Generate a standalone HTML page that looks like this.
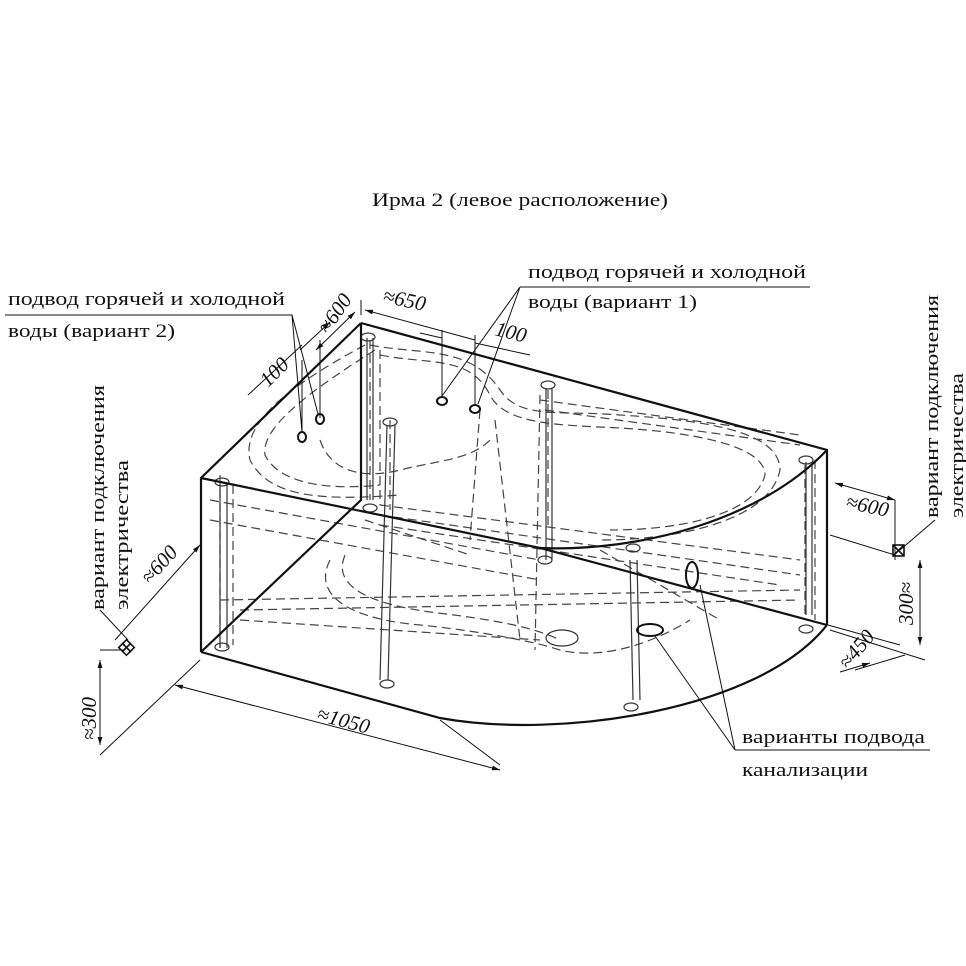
<!DOCTYPE html>
<html><head><meta charset="utf-8"><style>
html,body{margin:0;padding:0;background:#fff;}
svg{display:block;}
text{font-family:"Liberation Serif","DejaVu Serif",serif;fill:#111;}
</style></head><body>
<svg width="966" height="966" viewBox="0 0 966 966" xmlns="http://www.w3.org/2000/svg">
<defs>
<marker id="ar" viewBox="0 0 10 10" refX="10" refY="5" markerWidth="8" markerHeight="8" orient="auto-start-reverse"><path d="M0,2 L10,5 L0,8 z" fill="#111"/></marker>
</defs>
<text x="372" y="206" font-size="19" textLength="296" lengthAdjust="spacingAndGlyphs">Ирма 2 (левое расположение)</text>

<g fill="none" stroke="#444" stroke-width="1.2" stroke-dasharray="9,5">
<path d="M365,345 C300,380 240,420 250,460 C270,500 330,500 400,495"/>
<path d="M375,350 C320,385 260,425 265,455 C280,485 330,490 380,485"/>
<path d="M370,345 C420,355 470,345 500,390 C520,420 560,410 620,415 C700,420 780,430 780,470 C770,520 680,540 600,540"/>
<path d="M380,355 C430,365 470,355 490,395 C505,425 560,425 620,428 C690,432 765,445 765,475 C755,515 680,530 610,530"/>
<path d="M320,440 C330,470 360,480 400,470 C440,460 470,460 490,440"/>
<path d="M330,560 C310,600 360,620 420,625 C470,630 530,640 560,650 C600,660 650,645 690,620"/>
<path d="M345,555 C330,590 380,605 430,612 C480,618 530,625 560,640"/>
<path d="M220,475 L220,648 M233,485 L233,645"/>
<path d="M370,340 L370,500 M380,350 L380,505"/>
<path d="M805,465 L805,615 M815,460 L815,620"/>
<path d="M220,600 L800,590 M240,610 L800,600 M240,620 L540,640"/>
<path d="M390,420 L390,510 M548,390 L548,530 M540,395 L535,650"/>
<path d="M380,505 L800,560 M380,515 L800,575 M380,525 L780,585"/>
<path d="M210,500 L540,560 M210,520 L540,580"/>
<path d="M480,410 L470,540 M495,420 L520,640"/>
<path d="M365,520 L470,555 M600,550 L720,620"/>
<path d="M540,400 L800,435 M545,410 L800,445"/>
</g>
<g fill="none" stroke="#333" stroke-width="1.2">
<path d="M220,484 L220,648 M227,484 L227,648"/>
<path d="M367,338 L367,500 M373,338 L373,500"/>
<path d="M387,425 L380,680 M395,425 L388,680"/>
<path d="M546,388 L546,560 M552,388 L552,560"/>
<path d="M630,560 L633,700 M637,560 L640,700"/>
<path d="M806,462 L806,615 M812,462 L812,615"/>
<ellipse cx="222" cy="482" rx="7" ry="4"/><ellipse cx="222" cy="647" rx="7" ry="4"/>
<ellipse cx="368" cy="337" rx="7" ry="4"/><ellipse cx="370" cy="508" rx="7" ry="4"/>
<ellipse cx="390" cy="422" rx="7" ry="4"/><ellipse cx="387" cy="684" rx="7" ry="4"/>
<ellipse cx="548" cy="385" rx="7" ry="4"/><ellipse cx="545" cy="560" rx="7" ry="4"/>
<ellipse cx="631" cy="707" rx="7" ry="4"/><ellipse cx="633" cy="548" rx="7" ry="4"/>
<ellipse cx="806" cy="460" rx="7" ry="4"/><ellipse cx="806" cy="629" rx="7" ry="4"/>
<ellipse cx="562" cy="638" rx="16" ry="8"/>
</g>
<g fill="none" stroke="#111" stroke-width="2.2">
<path d="M361,323 L827,450 L827,625"/>
<path d="M361,323 L201,478 L201,652"/>
<path d="M361,323 L361,500 L201,652"/>
<path d="M201,478 L540,548 L827,625"/>
<path d="M540,548 C640,552 760,520 826,451"/>
<path d="M201,652 L440,718 C560,740 760,710 827,625"/>
</g>
<g fill="none" stroke="#111" stroke-width="2">
<ellipse cx="302" cy="437" rx="4" ry="5"/><ellipse cx="320" cy="419" rx="4" ry="5"/>
<ellipse cx="442" cy="401" rx="5" ry="4"/><ellipse cx="475" cy="409" rx="5" ry="4"/>
<ellipse cx="692" cy="575" rx="6" ry="13"/><ellipse cx="650" cy="630" rx="13" ry="6"/>
</g>
<g fill="none" stroke="#111" stroke-width="1">
<path d="M5,315 L292,315 L302,432 M292,315 L318,414"/>
<path d="M520,287 L810,287 M520,287 L442,396 M520,287 L478,404"/>
<path d="M735,750 L930,750 M735,750 L700,585 M735,750 L655,636"/>
<path d="M320,340 L320,418 M302,360 L302,432"/>
<path d="M248,395 L302,345 M300,350 L330,322" marker-end="url(#ar)"/>
<path d="M316,350 L355,312" marker-start="url(#ar)" marker-end="url(#ar)"/>
<path d="M361,315 L361,300"/>
<path d="M365,310 L475,340" marker-start="url(#ar)"/>
<path d="M442,330 L442,396 M475,335 L475,404"/>
<path d="M420,333 L442,338 M475,343 L530,355" />
<path d="M835,483 L895,500" marker-start="url(#ar)" marker-end="url(#ar)"/>
<path d="M830,535 L895,555 M895,500 L895,560"/>
<path d="M830,630 L925,660 M828,625 L900,645"/>
<path d="M855,670 L905,655" />
<path d="M840,672 L870,663" marker-end="url(#ar)"/>
<path d="M920,560 L920,645" marker-start="url(#ar)" marker-end="url(#ar)"/>
<path d="M200,545 L115,640" marker-start="url(#ar)"/>
<path d="M200,660 L100,755 M125,650 L100,650"/>
<path d="M100,660 L100,745" marker-start="url(#ar)" marker-end="url(#ar)"/>
<path d="M175,685 L500,770" marker-start="url(#ar)" marker-end="url(#ar)"/>
<path d="M500,765 L440,720"/>
<path d="M100,610 L128,640 M935,520 L900,550"/>
</g>
<g stroke="#111" stroke-width="1.6" fill="none">
<rect x="121" y="642" width="11" height="11" transform="rotate(45 126.5 647.5)"/>
<path d="M122,643 L131,652 M131,643 L122,652"/>
<rect x="893" y="545" width="11" height="11"/>
<path d="M893,545 L904,556 M904,545 L893,556"/>
</g>
<g font-size="19" lengthAdjust="spacingAndGlyphs">
<text x="8" y="305" textLength="277" lengthAdjust="spacingAndGlyphs">подвод горячей и холодной</text>
<text x="8" y="337" textLength="167" lengthAdjust="spacingAndGlyphs">воды (вариант 2)</text>
<text x="528" y="278" textLength="278" lengthAdjust="spacingAndGlyphs">подвод горячей и холодной</text>
<text x="528" y="308" textLength="169" lengthAdjust="spacingAndGlyphs">воды (вариант 1)</text>
<text x="742" y="743" textLength="183" lengthAdjust="spacingAndGlyphs">варианты подвода</text>
<text x="742" y="776" textLength="126" lengthAdjust="spacingAndGlyphs">канализации</text>
<text transform="translate(104,610) rotate(-90)" textLength="225" lengthAdjust="spacingAndGlyphs">вариант подключения</text>
<text transform="translate(128,610) rotate(-90)" textLength="150" lengthAdjust="spacingAndGlyphs">электричества</text>
<text transform="translate(938,518) rotate(-90)" textLength="223" lengthAdjust="spacingAndGlyphs">вариант подключения</text>
<text transform="translate(963,518) rotate(-90)" textLength="145" lengthAdjust="spacingAndGlyphs">электричества</text>
</g>
<g font-size="21" font-style="italic">
<text transform="translate(328,335) rotate(-55)">≈600</text>
<text transform="translate(382,302) rotate(12)">≈650</text>
<text transform="translate(268,388) rotate(-45)">100</text>
<text transform="translate(494,335) rotate(14)">100</text>
<text transform="translate(845,508) rotate(12)">≈600</text>
<text transform="translate(913,625) rotate(-90)">300≈</text>
<text transform="translate(848,670) rotate(-50)">≈450</text>
<text transform="translate(316,720) rotate(15)">≈1050</text>
<text transform="translate(150,585) rotate(-48)">≈600</text>
<text transform="translate(96,740) rotate(-90)">≈300</text>
</g>
</svg>
</body></html>
